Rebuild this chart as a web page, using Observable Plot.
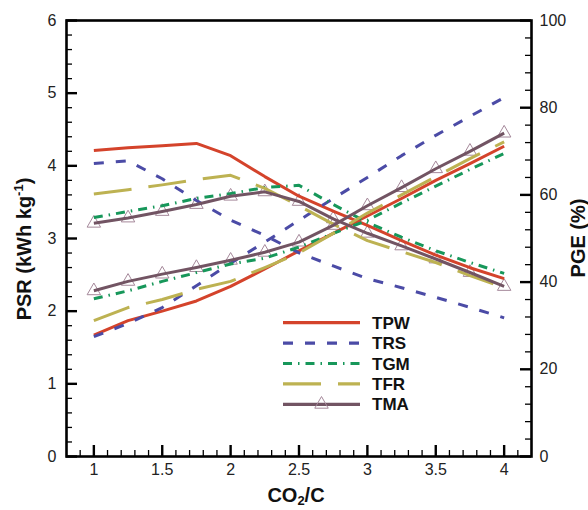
<!DOCTYPE html>
<html><head><meta charset="utf-8">
<script src="https://cdn.jsdelivr.net/npm/d3@7"></script>
<script src="https://cdn.jsdelivr.net/npm/@observablehq/plot@0.6"></script>
<style>body{margin:0;background:#fff} #chart{width:588px;height:510px}</style>
</head><body><div id="chart"></div>
<script>
// CO2/C ratio (x)
const co2c = [1, 1.25, 1.5, 1.75, 2, 2.25, 2.5, 2.75, 3, 3.25, 3.5, 3.75, 4];
const seriesNames = ["TPW", "TRS", "TGM", "TFR", "TMA"];
// PSR (kWh kg-1), rising curves, left axis
const psrTPW = [1.67, 1.87, 2.00, 2.14, 2.34, 2.58, 2.83, 3.07, 3.31, 3.55, 3.80, 4.03, 4.27];
const psrTRS = [1.65, 1.83, 2.05, 2.35, 2.66, 2.95, 3.25, 3.55, 3.84, 4.14, 4.42, 4.68, 4.94];
const psrTGM = [2.17, 2.28, 2.41, 2.53, 2.65, 2.73, 2.88, 3.07, 3.25, 3.49, 3.72, 3.95, 4.17];
const psrTFR = [1.87, 2.05, 2.16, 2.30, 2.41, 2.60, 2.80, 3.07, 3.35, 3.60, 3.85, 4.10, 4.33];
const psrTMA = [2.28, 2.41, 2.51, 2.60, 2.70, 2.81, 2.95, 3.18, 3.45, 3.70, 3.96, 4.20, 4.45];
// PGE (%), falling curves, right axis
const pgeTPW = [70.2, 70.8, 71.3, 71.8, 69.0, 64.2, 59.7, 56.3, 53.0, 49.5, 46.2, 43.3, 40.8];
const pgeTRS = [67.2, 67.8, 63.7, 58.7, 54.2, 50.7, 46.7, 43.7, 40.8, 38.7, 36.5, 34.2, 31.8];
const pgeTGM = [54.8, 56.2, 57.5, 59.2, 60.3, 61.7, 62.2, 57.8, 53.7, 50.3, 47.2, 44.5, 42.0];
const pgeTFR = [60.2, 61.2, 62.3, 63.5, 64.5, 61.5, 57.5, 53.3, 49.5, 47.0, 44.5, 41.5, 38.7];
const pgeTMA = [53.5, 54.7, 56.2, 57.8, 59.7, 60.7, 58.5, 54.5, 51.2, 48.3, 45.3, 42.2, 39.0];
// tick labels
const xTicks = [1, 1.5, 2, 2.5, 3, 3.5, 4];
const psrTicks = [0, 1, 2, 3, 4, 5, 6];
const pgeTicks = [0, 20, 40, 60, 80, 100];

const psrAll = [psrTPW, psrTRS, psrTGM, psrTFR, psrTMA];
const pgeAll = [pgeTPW, pgeTRS, pgeTGM, pgeTFR, pgeTMA];
const colors = {TPW: "#d4432b", TRS: "#4b4ba6", TGM: "#17975a", TFR: "#bdb252", TMA: "#725463"};
const dashes = {TPW: null, TRS: "10,12", TGM: "9,6,1.5,6", TFR: "38,17", TMA: null};
const triColor = "#a5889a";
const PSR_MAX = 6, PGE_MAX = 100;
const toLeft = p => p * PSR_MAX / PGE_MAX;

const rows = [];
seriesNames.forEach((s, k) => {
  co2c.forEach((x, i) => {
    rows.push({series: s, kind: "PSR", x, y: psrAll[k][i]});
  });
  co2c.forEach((x, i) => {
    rows.push({series: s, kind: "PGE", x, y: toLeft(pgeAll[k][i])});
  });
});

const W = 588, H = 510, mL = 66, mR = 57, mT = 20, mB = 54;
const iw = W - mL - mR, ih = H - mT - mB;
const xMinor = d3.range(9, 42).map(d => d / 10).filter(d => Math.abs(d * 2 - Math.round(d * 2)) > 1e-6);
const yMinor = d3.range(0, 31).map(d => d / 5).filter(d => Math.abs(d - Math.round(d)) > 1e-6);
const pMinor = d3.range(0, 26).map(d => d * 4).filter(d => d % 20 !== 0);

const lineMarks = seriesNames.map(s => Plot.line(rows.filter(r => r.series === s), {
  x: "x", y: "y", z: "kind", stroke: colors[s], strokeWidth: 3,
  strokeDasharray: dashes[s], strokeLinecap: "butt", strokeLinejoin: "round"
}));

const plot = Plot.plot({
  width: W, height: H,
  marginLeft: mL, marginRight: mR, marginTop: mT, marginBottom: mB,
  x: {domain: [0.8, 4.2]},
  y: {domain: [0, 6]},
  style: {fontFamily: "'Liberation Sans', Arial, sans-serif", fontSize: "16px", color: "#222", background: "white"},
  marks: [
    Plot.axisX(xTicks, {tickSize: 0, tickPadding: 7, tickFormat: d => String(d), label: null, fontSize: 16}),
    Plot.axisY(psrTicks, {anchor: "left", tickSize: 0, tickPadding: 10, tickFormat: d => String(d), label: null, fontSize: 16}),
    Plot.axisY(pgeTicks.map(toLeft), {anchor: "right", tickSize: 0, tickPadding: 8, tickFormat: d => String(Math.round(d * PGE_MAX / PSR_MAX)), label: null, fontSize: 16}),
    Plot.tickX(xTicks, {x: d => d, insetTop: ih - 11, stroke: "black", strokeWidth: 2.4}),
    Plot.tickX(xMinor, {x: d => d, insetTop: ih - 6, stroke: "black", strokeWidth: 1.3}),
    Plot.tickY(psrTicks, {y: d => d, insetRight: iw - 11, stroke: "black", strokeWidth: 2.4}),
    Plot.tickY(yMinor, {y: d => d, insetRight: iw - 6, stroke: "black", strokeWidth: 1.3}),
    Plot.tickY(pgeTicks.map(toLeft), {y: d => d, insetLeft: iw - 11, stroke: "black", strokeWidth: 2.4}),
    Plot.tickY(pMinor.map(toLeft), {y: d => d, insetLeft: iw - 6, stroke: "black", strokeWidth: 1.3}),
    Plot.dot(rows.filter(r => r.series === "TMA"), {x: "x", y: "y", symbol: "triangle", r: 5, stroke: triColor, strokeWidth: 1, fill: "none"}),
    ...lineMarks,
    Plot.frame({stroke: "black", strokeWidth: 2.6})
  ]
});
document.getElementById("chart").appendChild(plot);

const svg = d3.select(plot);
const font = "'Liberation Sans', Arial, sans-serif";
// axis titles
const xt = svg.append("text").attr("x", 296).attr("y", 502).attr("text-anchor", "middle")
  .attr("font-family", font).attr("font-weight", "bold").attr("font-size", 20).attr("fill", "#111");
xt.append("tspan").text("CO");
xt.append("tspan").attr("font-size", 13).attr("dy", 3).text("2");
xt.append("tspan").attr("dy", -3).text("/C");

const yt = svg.append("text").attr("transform", "translate(31,249) rotate(-90)").attr("text-anchor", "middle")
  .attr("font-family", font).attr("font-weight", "bold").attr("font-size", 20).attr("fill", "#111");
yt.append("tspan").text("PSR (kWh kg");
yt.append("tspan").attr("font-size", 13).attr("dy", -8).text("-1");
yt.append("tspan").attr("dy", 8).text(")");

svg.append("text").attr("transform", "translate(585,238) rotate(-90)").attr("text-anchor", "middle")
  .attr("font-family", font).attr("font-weight", "bold").attr("font-size", 20).attr("fill", "#111")
  .text("PGE (%)");

// legend
const lg = svg.append("g");
const legY0 = 322.7, legDy = 20.4, lx1 = 283, lx2 = 360, tx = 372;
seriesNames.forEach((s, i) => {
  const y = legY0 + i * legDy;
  lg.append("line").attr("x1", lx1).attr("x2", lx2).attr("y1", y).attr("y2", y)
    .attr("stroke", colors[s]).attr("stroke-width", 3.2)
    .attr("stroke-dasharray", dashes[s]).attr("stroke-linecap", "butt");
  if (s === "TMA") {
    lg.append("path").attr("d", d3.symbol(d3.symbolTriangle, 5 * 5 * Math.PI)())
      .attr("transform", `translate(${(lx1 + lx2) / 2},${y})`).attr("fill", "none")
      .attr("stroke", triColor).attr("stroke-width", 1);
  }
  lg.append("text").attr("x", tx).attr("y", y).attr("dy", "0.36em").attr("text-anchor", "start")
    .attr("font-family", font).attr("font-weight", "bold").attr("font-size", 17).attr("fill", "#111").text(s);
});
</script>
</body></html>
